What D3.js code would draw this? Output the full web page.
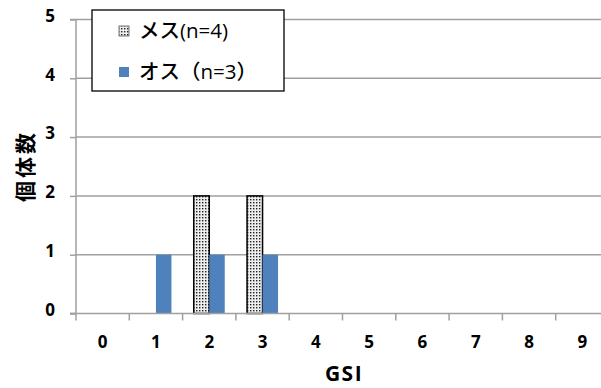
<!DOCTYPE html>
<html>
<head>
<meta charset="utf-8">
<script src="https://cdn.jsdelivr.net/npm/d3@7"></script>
<style>
  html, body { margin: 0; padding: 0; background: #fff; }
  svg { display: block; }
  text { font-family: "Open Sans", "Liberation Sans", "Noto Sans CJK JP", sans-serif; }
</style>
</head>
<body>
<svg id="chart" width="601" height="388"></svg>
<script>
// GSI classes on the x axis
const categories = ["0", "1", "2", "3", "4", "5", "6", "7", "8", "9"];
// number of individuals per GSI class
const femaleCounts = [0, 0, 2, 2, 0, 0, 0, 0, 0, 0];
const maleCounts   = [0, 1, 1, 1, 0, 0, 0, 0, 0, 0];
const seriesNames = ["メス(n=4)", "オス（n=3）"];
const yTicks = [0, 1, 2, 3, 4, 5];

const svg = d3.select("#chart");
const plotLeft = 76, plotTop = 19.5, plotBottom = 313.5;
const bandW = 53.3;
const plotRight = plotLeft + bandW * categories.length;

// dotted fill for the female series
const defs = svg.append("defs");
const pat = defs.append("pattern")
  .attr("id", "dots").attr("patternUnits", "userSpaceOnUse")
  .attr("width", 3).attr("height", 3);
pat.append("rect").attr("width", 3).attr("height", 3).attr("fill", "#eeeeee");
pat.append("rect").attr("x", 1).attr("y", 1).attr("width", 1.4).attr("height", 1.4).attr("fill", "#222");

const x = d3.scaleBand().domain(categories).range([plotLeft, plotRight]).paddingInner(0).paddingOuter(0);
const y = d3.scaleLinear().domain([0, 5]).range([plotBottom, plotTop]);
const groupW = 31;
const xs = d3.scaleBand().domain([0, 1]).range([0, groupW]);

// horizontal gridlines
svg.append("g").selectAll("line").data(yTicks.slice(1)).join("line")
  .attr("x1", plotLeft).attr("x2", 601)
  .attr("y1", d => y(d)).attr("y2", d => y(d))
  .attr("stroke", "#a0a0a0").attr("stroke-width", 1.5);

// bars
const series = [
  { values: femaleCounts, fill: "url(#dots)", stroke: "#000" },
  { values: maleCounts, fill: "#4f81bd", stroke: "none" }
];
series.forEach((s, i) => {
  svg.append("g").selectAll("rect").data(categories.map((c, j) => ({ c, v: s.values[j] })).filter(d => d.v > 0))
    .join("rect")
    .attr("x", d => x(d.c) + (bandW - groupW) / 2 + xs(i))
    .attr("y", d => y(d.v))
    .attr("width", xs.bandwidth())
    .attr("height", d => y(0) - y(d.v))
    .attr("fill", s.fill)
    .attr("stroke", s.stroke)
    .attr("stroke-width", s.stroke === "none" ? 0 : 1.5);
});

// y axis
const yAxis = d3.axisLeft(y).tickValues(yTicks).tickSize(6).tickPadding(15).tickFormat(d3.format("d"));
const gy = svg.append("g").attr("transform", `translate(${plotLeft},0)`).call(yAxis);
gy.select(".domain").attr("stroke", "#a0a0a0").attr("stroke-width", 1.5).attr("d", `M-6,${plotTop}H0V${plotBottom}H-6`);
gy.selectAll(".tick line").attr("stroke", "#a0a0a0").attr("stroke-width", 1.5);
gy.selectAll(".tick text").attr("font-size", 17).attr("font-weight", "bold").attr("fill", "#000")
  .attr("dy", "0.1em");

// x axis: ticks sit between categories
const gx = svg.append("g").attr("transform", `translate(0,${plotBottom})`);
gx.append("line").attr("x1", plotLeft - 6).attr("x2", 601).attr("y1", 0).attr("y2", 0)
  .attr("stroke", "#a0a0a0").attr("stroke-width", 1.5);
gx.selectAll("line.tk").data(categories).join("line").attr("class", "tk")
  .attr("x1", d => x(d)).attr("x2", d => x(d)).attr("y1", 0).attr("y2", 7)
  .attr("stroke", "#a0a0a0").attr("stroke-width", 1.5);
gx.selectAll("text").data(categories).join("text")
  .attr("x", d => x(d) + bandW / 2).attr("y", 34.5)
  .attr("text-anchor", "middle").attr("font-size", 17).attr("font-weight", "bold")
  .text(d => d);

// axis titles
svg.append("text").attr("x", 344).attr("y", 381).attr("text-anchor", "middle")
  .attr("font-size", 21).attr("font-weight", "bold").attr("letter-spacing", 1.5)
  .attr("font-family", "'DejaVu Sans', sans-serif").text("GSI");
svg.append("text").attr("transform", "translate(33,166) rotate(-90)")
  .attr("text-anchor", "middle").attr("font-size", 21).attr("font-weight", "bold")
  .attr("letter-spacing", 3)
  .attr("font-family", "'Noto Sans CJK JP', sans-serif").text("個体数");

// legend
const lg = svg.append("g");
lg.append("rect").attr("x", 92).attr("y", 10).attr("width", 192).attr("height", 81)
  .attr("fill", "#fff").attr("stroke", "#000").attr("stroke-width", 1.3);
const legendFills = ["url(#dots)", "#4f81bd"];
seriesNames.forEach((name, i) => {
  const cy = 31 + i * 41;
  lg.append("rect").attr("x", 119).attr("y", cy - 5).attr("width", 10).attr("height", 10)
    .attr("fill", legendFills[i]).attr("stroke", i === 0 ? "#555" : "none").attr("stroke-width", 0.8);
  lg.append("text").attr("x", 139).attr("y", cy + 7).attr("font-size", 20.5)
    .attr("font-weight", 500)
    .attr("font-family", "'Noto Sans CJK JP', sans-serif").text(name);
});
</script>
</body>
</html>
